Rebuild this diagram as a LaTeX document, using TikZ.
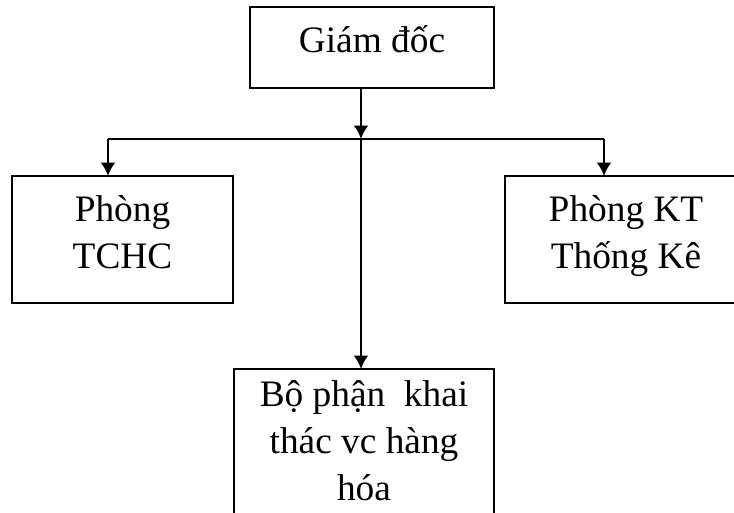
\documentclass[tikz,border=0pt]{standalone}
\usepackage{fontspec}
\setmainfont{Liberation Serif}
\usetikzlibrary{arrows.meta}

\begin{document}
\begin{tikzpicture}[x=0.75pt,y=-0.75pt,>={Latex[length=10pt,width=11pt]},
  box/.style={draw,line width=1.2pt,inner sep=0pt,outer sep=0pt,align=center,
    font=\fontsize{28}{35}\selectfont},
  link/.style={line width=1.6pt}]
\useasboundingbox (0,0) rectangle (734,513);
\clip (0,0) rectangle (734,513);
\node[box,minimum width=183pt,minimum height=60.75pt,text height=17pt,text depth=10pt] (gd) at (372,47.5) {Giám đốc};
\node[box,minimum width=165.75pt,minimum height=95.25pt,text height=51pt,text depth=8pt] (tchc) at (122.5,239.5) {Phòng\\TCHC};
\node[box,minimum width=181.5pt,minimum height=95.25pt,text height=51pt,text depth=8pt] (tk) at (626,239.5) {Phòng KT\\Thống Kê};
\node[box,minimum width=195pt,minimum height=135pt,text height=89pt,text depth=27.5pt] (bp) at (364,459) {Bộ phận~ khai\\thác vc hàng\\hóa};
\coordinate (bus) at (361,139);
\coordinate (busL) at (108,139);
\coordinate (busR) at (604,139);
\draw[link,->] (gd.south -| bus) -- (bus);
\draw[link] (busL) -- (busR);
\draw[link,->] (busL) -- (busL |- tchc.north);
\draw[link,->] (busR) -- (busR |- tk.north);
\draw[link,->] (bus) -- (bus |- bp.north);
\end{tikzpicture}
\end{document}
